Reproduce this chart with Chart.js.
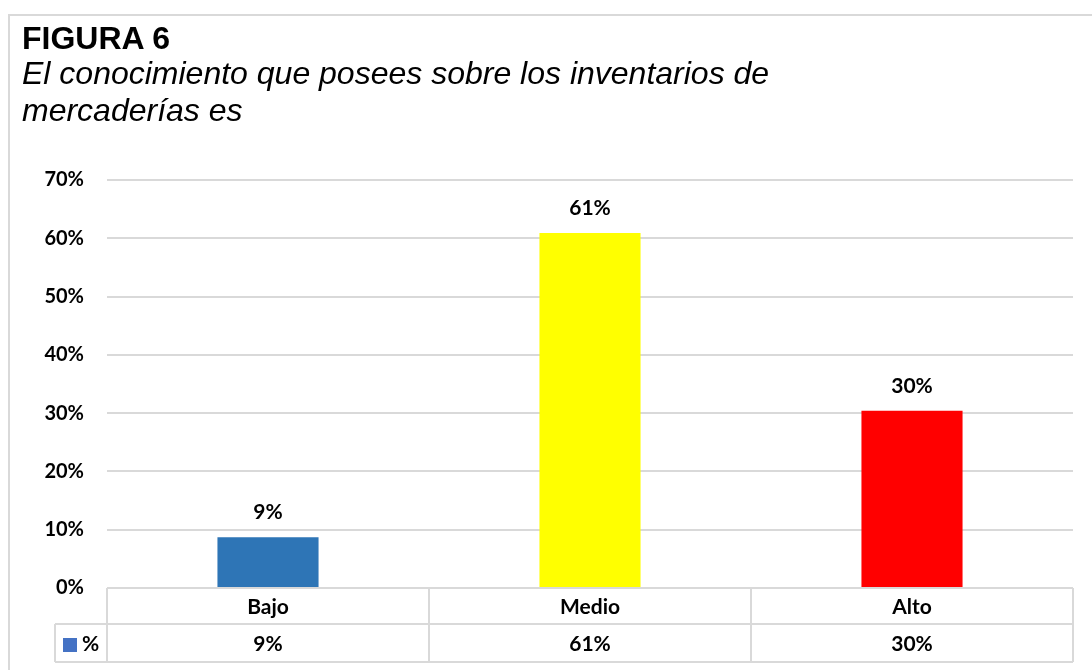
<!DOCTYPE html>
<html>
<head>
<meta charset="utf-8">
<script src="https://cdn.jsdelivr.net/npm/chart.js@4"></script>
<style>
  html, body { margin: 0; padding: 0; background: #fff; }
  #wrap { position: relative; width: 1092px; height: 670px; overflow: hidden; }
  #frame { position: absolute; left: 8px; top: 14px; width: 1200px; height: 800px; border: 2px solid #d9d9d9; box-sizing: border-box; }
  #t1 { position: absolute; left: 22px; top: 20px; font: bold 32px "Liberation Sans", Arial, sans-serif; line-height: 37px; color: #000; white-space: nowrap; }
  #t2 { position: absolute; left: 22px; top: 55px; font: italic 32px "Liberation Sans", Arial, sans-serif; line-height: 37px; color: #000; white-space: nowrap; }
  canvas { position: absolute; left: 0; top: 0; }
</style>
</head>
<body>
<div id="wrap">
  <div id="frame"></div>
  <canvas id="c" width="1092" height="670"></canvas>
  <div id="t1">FIGURA 6</div>
  <div id="t2">El conocimiento que posees sobre los inventarios de<br>mercaderías es</div>
</div>
<script>
const categories = ["Bajo", "Medio", "Alto"];
const values = [8.7, 60.9, 30.4];
const barColors = ["#2E75B6", "#FFFF00", "#FF0000"];
const seriesName = "%";
const legendColor = "#4472C4";
const yTicks = [0, 10, 20, 30, 40, 50, 60, 70];

const FONT = "Lato, 'Open Sans', sans-serif";
const GRID = "#d9d9d9";

const labelsPlugin = {
  id: "barLabels",
  afterDatasetsDraw(chart) {
    const ctx = chart.ctx;
    const meta = chart.getDatasetMeta(0);
    ctx.save();
    ctx.font = "bold 21px " + FONT;
    ctx.fillStyle = "#000";
    ctx.textAlign = "center";
    ctx.textBaseline = "middle";
    meta.data.forEach((bar, i) => {
      ctx.fillText(Math.round(values[i]) + "%", bar.x, bar.y - 25);
    });
    ctx.restore();
  }
};

const tablePlugin = {
  id: "dataTable",
  afterDraw(chart) {
    const ctx = chart.ctx;
    const xs = chart.scales.x;
    const area = chart.chartArea;
    const top = area.bottom;
    const mid = top + 36;
    const bot = top + 74;
    const left = area.left, right = area.right;
    const keyLeft = 55;
    const band = (right - left) / categories.length;
    ctx.save();
    ctx.strokeStyle = GRID;
    ctx.lineWidth = 2;
    ctx.beginPath();
    ctx.moveTo(left, top); ctx.lineTo(right, top);
    ctx.moveTo(keyLeft, mid); ctx.lineTo(right, mid);
    ctx.moveTo(keyLeft, bot); ctx.lineTo(right, bot);
    ctx.moveTo(keyLeft, mid); ctx.lineTo(keyLeft, bot);
    for (let i = 0; i <= categories.length; i++) {
      const x = left + band * i;
      ctx.moveTo(x, top); ctx.lineTo(x, bot);
    }
    ctx.stroke();
    ctx.fillStyle = "#000";
    ctx.font = "bold 21px " + FONT;
    ctx.textAlign = "center";
    ctx.textBaseline = "middle";
    categories.forEach((c, i) => {
      const x = xs.getPixelForValue(i);
      ctx.fillText(c, x, (top + mid) / 2 + 1);
      ctx.fillText(Math.round(values[i]) + "%", x, (mid + bot) / 2 + 1);
    });
    ctx.fillStyle = legendColor;
    ctx.fillRect(63, mid + 14, 14, 14);
    ctx.fillStyle = "#000";
    ctx.textAlign = "left";
    ctx.fillText(seriesName, 82, (mid + bot) / 2 + 1);
    ctx.restore();
  }
};

new Chart(document.getElementById("c"), {
  type: "bar",
  data: {
    labels: categories,
    datasets: [{
      label: seriesName,
      data: values,
      backgroundColor: barColors,
      borderWidth: 0,
      categoryPercentage: 1,
      barPercentage: 0.314
    }]
  },
  options: {
    responsive: false,
    animation: false,
    devicePixelRatio: 1,
    layout: { padding: { top: 180, bottom: 82, left: 0, right: 19 } },
    plugins: { legend: { display: false }, tooltip: { enabled: false }, title: { display: false } },
    scales: {
      x: {
        display: false,
        offset: true
      },
      y: {
        min: 0,
        max: 70,
        afterBuildTicks(scale) { scale.ticks = yTicks.map(v => ({ value: v })); },
        afterFit(scale) { scale.width = 107; },
        border: { display: false },
        grid: { color: GRID, lineWidth: 2, drawTicks: false },
        ticks: {
          padding: 23,
          color: "#000",
          font: { family: FONT, size: 20, weight: "bold" },
          callback: v => v + "%"
        }
      }
    }
  },
  plugins: [labelsPlugin, tablePlugin]
});
</script>
</body>
</html>
